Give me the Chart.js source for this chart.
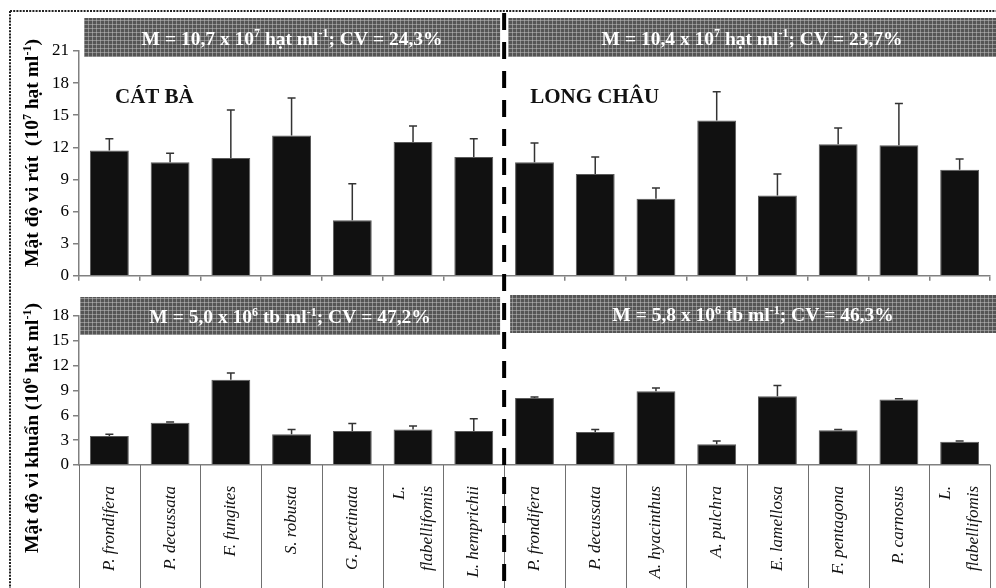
<!DOCTYPE html>
<html>
<head>
<meta charset="utf-8">
<script src="https://cdn.jsdelivr.net/npm/chart.js@4"></script>
<style>
  html, body { margin: 0; padding: 0; background: #fff; }
  #wrap { position: relative; width: 996px; height: 588px; overflow: hidden; }
  #virusChart { position: absolute; left: 0; top: 0; }
  #bacteriaChart { position: absolute; left: 0; top: 290px; }
</style>
</head>
<body>
<div id="wrap">
  <canvas id="virusChart" width="996" height="290" style="width:996px;height:290px"></canvas>
  <canvas id="bacteriaChart" width="996" height="298" style="width:996px;height:298px"></canvas>
</div>
<script>
// Coral species sampled at each site
const catBaSpecies = ['P. frondifera', 'P. decussata', 'F. fungites', 'S. robusta', 'G. pectinata', ['L.', 'flabellifomis'], 'L. hemprichii'];
const longChauSpecies = ['P. frondifera', 'P. decussata', 'A. hyacinthus', 'A. pulchra', 'E. lamellosa', 'F. pentagona', 'P. carnosus', ['L.', 'flabellifomis']];

// Virus density (10^7 particles/ml): mean and standard deviation
const virusCatBa = [11.7, 10.6, 11.0, 13.1, 5.2, 12.5, 11.1];
const virusCatBaSD = [1.1, 0.85, 4.5, 3.5, 3.4, 1.5, 1.7];
const virusLongChau = [10.6, 9.5, 7.2, 14.5, 7.5, 12.3, 12.2, 9.9];
const virusLongChauSD = [1.8, 1.6, 1.0, 2.7, 2.0, 1.5, 3.9, 1.0];

// Bacteria density (10^6 cells/ml): mean and standard deviation
const bactCatBa = [3.5, 5.1, 10.3, 3.7, 4.1, 4.3, 4.1];
const bactCatBaSD = [0.2, 0.1, 0.8, 0.6, 0.9, 0.4, 1.5];
const bactLongChau = [8.1, 4.0, 8.9, 2.5, 8.3, 4.2, 7.9, 2.8];
const bactLongChauSD = [0.1, 0.3, 0.4, 0.4, 1.3, 0.1, 0.1, 0.1];

// Axis ranges and ticks
const virusTicks = { min: 0, max: 21, step: 3 };
const bactTicks = { min: 0, max: 18, step: 3 };

// Site names and summary banners (segments: [text, isSuperscript])
const siteNames = ['CÁT BÀ', 'LONG CHÂU'];
const virusSummary = [
  [['M = 10,7 x 10', 0], ['7', 1], [' hạt ml', 0], ['-1', 1], ['; CV = 24,3%', 0]],
  [['M = 10,4 x 10', 0], ['7', 1], [' hạt ml', 0], ['-1', 1], ['; CV = 23,7%', 0]]
];
const bactSummary = [
  [['M = 5,0 x 10', 0], ['6', 1], [' tb ml', 0], ['-1', 1], ['; CV = 47,2%', 0]],
  [['M = 5,8 x 10', 0], ['6', 1], [' tb ml', 0], ['-1', 1], ['; CV = 46,3%', 0]]
];
const virusTitle = [['Mật độ vi rút  (10', 0], ['7', 1], [' hạt ml', 0], ['-1', 1], [')', 0]];
const bactTitle = [['Mật độ vi khuẩn (10', 0], ['6', 1], [' hạt ml', 0], ['-1', 1], [')', 0]];

const SERIF = '"Liberation Serif", "Times New Roman", serif';
const AXIS_GREY = '#808080';

const allSpecies = catBaSpecies.concat(longChauSpecies);
const virusMeans = virusCatBa.concat(virusLongChau);
const virusSD = virusCatBaSD.concat(virusLongChauSD);
const bactMeans = bactCatBa.concat(bactLongChau);
const bactSD = bactCatBaSD.concat(bactLongChauSD);
const splitIndex = catBaSpecies.length;

// Write text made of normal and superscript pieces
function drawRich(ctx, segs, x, y, size, weight, color, align) {
  const parts = segs.map(([t, sup]) => {
    const fs = sup ? Math.round(size * 0.6) : size;
    ctx.font = `${weight} ${fs}px ${SERIF}`;
    return { t, sup, fs, w: ctx.measureText(t).width };
  });
  const total = parts.reduce((a, p) => a + p.w, 0);
  let cx = align === 'center' ? x - total / 2 : x;
  ctx.fillStyle = color;
  ctx.textAlign = 'left';
  ctx.textBaseline = 'alphabetic';
  for (const p of parts) {
    ctx.font = `${weight} ${p.fs}px ${SERIF}`;
    ctx.fillText(p.t, cx, p.sup ? y - size * 0.38 : y);
    cx += p.w;
  }
}

// Grey plaid fill used behind the summary banners
function bannerPattern(ctx) {
  const c = document.createElement('canvas');
  c.width = 4; c.height = 4;
  const g = c.getContext('2d');
  g.fillStyle = '#555'; g.fillRect(0, 0, 4, 4);
  g.fillStyle = '#8c8c8c'; g.fillRect(0, 0, 4, 1); g.fillRect(0, 0, 1, 4);
  g.fillStyle = '#a8a8a8'; g.fillRect(0, 0, 1, 1);
  return ctx.createPattern(c, 'repeat');
}

function dividerX(chart) {
  const xs = chart.scales.x;
  return (xs.getPixelForValue(splitIndex - 1) + xs.getPixelForValue(splitIndex)) / 2;
}

// Upper error bars for each bar
const errorBars = {
  id: 'errorBars',
  afterDatasetsDraw(chart, args, opts) {
    const ctx = chart.ctx;
    const ys = chart.scales.y;
    const meta = chart.getDatasetMeta(0);
    const vals = chart.data.datasets[0].data;
    ctx.save();
    ctx.strokeStyle = '#333';
    ctx.lineWidth = 1.5;
    meta.data.forEach((bar, i) => {
      const yTop = ys.getPixelForValue(vals[i] + opts.sd[i]);
      ctx.beginPath();
      ctx.moveTo(bar.x, bar.y);
      ctx.lineTo(bar.x, yTop);
      ctx.moveTo(bar.x - 4, yTop);
      ctx.lineTo(bar.x + 4, yTop);
      ctx.stroke();
    });
    ctx.restore();
  }
};

// Banners, site divider, frame, titles, category separators and species names
const decorations = {
  id: 'decorations',
  afterDraw(chart, args, o) {
    const ctx = chart.ctx;
    const area = chart.chartArea;
    const xs = chart.scales.x;
    const W = chart.width, H = chart.height;
    const dx = dividerX(chart);
    ctx.save();

    if (o.separators) {
      const step = xs.getPixelForValue(1) - xs.getPixelForValue(0);
      // category separators below the axis
      ctx.strokeStyle = '#707070';
      ctx.lineWidth = 1;
      ctx.beginPath();
      for (let i = 0; i <= allSpecies.length; i++) {
        const x = Math.round(xs.getPixelForValue(0) - step / 2 + i * step) + 0.5;
        ctx.moveTo(x, area.bottom);
        ctx.lineTo(x, H);
      }
      ctx.stroke();

      // rotated species names, read bottom to top
      ctx.fillStyle = '#111';
      ctx.font = `italic 17px ${SERIF}`;
      ctx.textAlign = 'right';
      ctx.textBaseline = 'middle';
      allSpecies.forEach((lab, i) => {
        const lines = Array.isArray(lab) ? lab : [lab];
        const cx = xs.getPixelForValue(i);
        lines.forEach((ln, k) => {
          const lx = cx + (k - (lines.length - 1) / 2) * 28;
          ctx.save();
          ctx.translate(lx, area.bottom + 21);
          ctx.rotate(-Math.PI / 2);
          ctx.fillText(ln, 0, 0);
          ctx.restore();
        });
      });
    }

    // summary banners
    const pat = bannerPattern(ctx);
    o.banners.forEach((b, k) => {
      const x0 = k === 0 ? area.left + o.bannerInset : dx + 4 + (o.rightGap || 0);
      const x1 = k === 0 ? dx - 4 : W;
      const y0 = o.bannerTop[k], y1 = o.bannerBottom[k];
      ctx.fillStyle = pat;
      ctx.fillRect(x0, y0, x1 - x0, y1 - y0);
      drawRich(ctx, b, (x0 + x1) / 2, (y0 + y1) / 2 + 7, 19.5, 'bold', '#fff', 'center');
    });

    // site names
    if (o.sites) {
      ctx.fillStyle = '#111';
      ctx.font = `bold 21px ${SERIF}`;
      ctx.textAlign = 'left';
      ctx.textBaseline = 'alphabetic';
      ctx.fillText(o.sites[0], area.left + 36, 103);
      ctx.fillText(o.sites[1], dx + 26, 103);
    }

    // dashed divider between the two sites
    ctx.strokeStyle = '#000';
    ctx.lineWidth = 4;
    ctx.setLineDash([17, 12]);
    ctx.lineDashOffset = o.dashOffset;
    ctx.beginPath();
    ctx.moveTo(dx, o.dashStart);
    ctx.lineTo(dx, H);
    ctx.stroke();

    // dotted outer frame
    ctx.strokeStyle = '#222';
    ctx.lineWidth = 2;
    ctx.setLineDash([2, 1.2]);
    ctx.lineDashOffset = 0;
    ctx.beginPath();
    if (o.frameTop != null) {
      ctx.moveTo(10, o.frameTop);
      ctx.lineTo(W, o.frameTop);
      ctx.moveTo(10, o.frameTop);
    } else {
      ctx.moveTo(10, 0);
    }
    ctx.lineTo(10, H);
    ctx.stroke();
    ctx.setLineDash([]);

    // vertical axis title
    ctx.translate(38, o.titleCenter);
    ctx.rotate(-Math.PI / 2);
    drawRich(ctx, o.title, 0, 0, 19.5, 'bold', '#000', 'center');
    ctx.restore();
  }
};

function makeChart(id, means, sd, range, axisOpts, deco) {
  return new Chart(document.getElementById(id), {
    type: 'bar',
    data: {
      labels: allSpecies,
      datasets: [{
        data: means,
        backgroundColor: '#111',
        borderColor: '#5a5a5a',
        borderWidth: 1,
        barPercentage: 0.64,
        categoryPercentage: 1
      }]
    },
    options: {
      responsive: false,
      animation: false,
      events: [],
      layout: { autoPadding: false, padding: { left: 10, right: 6, top: axisOpts.top, bottom: 0 } },
      plugins: {
        legend: { display: false },
        tooltip: { enabled: false },
        errorBars: { sd },
        decorations: deco
      },
      scales: {
        x: {
          grid: { offset: true, drawOnChartArea: false, color: AXIS_GREY, lineWidth: 1.5, drawTicks: axisOpts.xTicks, tickLength: 5 },
          border: { color: AXIS_GREY, width: 1.5 },
          ticks: { display: false },
          afterFit(s) { s.height = axisOpts.xHeight; }
        },
        y: {
          min: range.min, max: range.max,
          ticks: { stepSize: range.step, color: '#000', padding: 4, font: { family: SERIF, size: 17 } },
          grid: { drawOnChartArea: false, color: AXIS_GREY, lineWidth: 1.5, tickLength: 6 },
          border: { color: AXIS_GREY, width: 1.5 },
          afterFit(s) { s.width = 69; }
        }
      }
    },
    plugins: [errorBars, decorations]
  });
}

makeChart('virusChart', virusMeans, virusSD, virusTicks,
  { top: 51, xHeight: 13, xTicks: true },
  { banners: virusSummary, bannerInset: 5, bannerTop: [18, 18], bannerBottom: [57, 57],
    sites: siteNames, dashStart: 13, dashOffset: 0, frameTop: 11,
    title: virusTitle, titleCenter: 153, separators: false });

makeChart('bacteriaChart', bactMeans, bactSD, bactTicks,
  { top: 26, xHeight: 123, xTicks: false },
  { banners: bactSummary, bannerInset: 1, bannerTop: [7, 5], bannerBottom: [45, 43], rightGap: 2,
    sites: null, dashStart: 0, dashOffset: 16, frameTop: null,
    title: bactTitle, titleCenter: 138, separators: true });
</script>
</body>
</html>
